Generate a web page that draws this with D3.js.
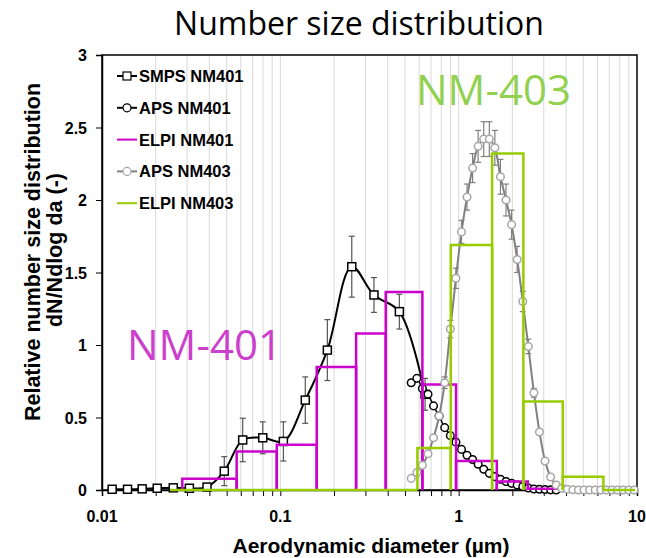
<!DOCTYPE html>
<html>
<head>
<meta charset="utf-8">
<script src="https://cdn.jsdelivr.net/npm/d3@7"></script>
<style>
  body { margin: 0; background: #fff; }
  text { font-family: "Liberation Sans", Arial, sans-serif; }
</style>
</head>
<body>
<div id="my_dataviz"></div>
<script>
// ---------------------------  DATA  ---------------------------
// SMPS NM401 (mobility sizer), diameters in um
const smpsDiam = [0.0114, 0.0139, 0.0168, 0.0204, 0.0251, 0.0309, 0.0388, 0.0485, 0.0615, 0.0797,
                  0.104, 0.138, 0.1835, 0.2515, 0.335, 0.465, 0.648];
const smpsNM401 = [0.005, 0.005, 0.008, 0.012, 0.015, 0.012, 0.02, 0.13, 0.345, 0.36,
                   0.335, 0.62, 0.965, 1.54, 1.345, 1.23, 0.66];
const smpsErr = [0, 0, 0, 0, 0, 0, 0, 0.1, 0.15, 0.11, 0.135, 0.16, 0.21, 0.21, 0.12, 0.12, 0.11];

// APS channels (um)
const apsDiam = [0.542, 0.583, 0.626, 0.673, 0.723, 0.777, 0.835, 0.898, 0.965, 1.037,
                 1.114, 1.197, 1.286, 1.382, 1.486, 1.596, 1.715, 1.843, 1.981, 2.129,
                 2.288, 2.458, 2.642, 2.839, 3.051, 3.278, 3.523, 3.786, 4.068, 4.371,
                 4.698, 5.048, 5.425, 5.829, 6.264, 6.732, 7.234, 7.774, 8.354, 8.977, 9.647];
const apsNM401 = [0.74, 0.77, 0.70, 0.66, 0.58, 0.51, 0.43, 0.375, 0.33, 0.28,
                  0.24, 0.21, 0.178, 0.143, 0.115, 0.092, 0.074, 0.058, 0.046, 0.035,
                  0.024, 0.014, 0.007, 0.005, 0.003, 0.001, 0];
const apsNM403 = [0.08, 0.12, 0.17, 0.25, 0.36, 0.51, 0.74, 1.11, 1.46, 1.78,
                  2.02, 2.22, 2.37, 2.42, 2.42, 2.36, 2.16, 2.00, 1.83, 1.59,
                  1.30, 0.99, 0.67, 0.40, 0.20, 0.09, 0.035, 0.012, 0.005, 0.002,
                  0, 0, 0, 0, 0, 0, 0, 0, 0, 0, 0];
const apsNM403Err = [0, 0, 0, 0, 0, 0, 0.04, 0.06, 0.07, 0.08,
                     0.09, 0.10, 0.11, 0.12, 0.12, 0.12, 0.12, 0.11, 0.10, 0.09,
                     0.07, 0.05, 0.03, 0, 0, 0, 0, 0, 0, 0,
                     0, 0, 0, 0, 0, 0, 0, 0, 0, 0, 0];

// ELPI stages: bin edges (um) and heights
const elpi401Edges = [0.0282, 0.0569, 0.0955, 0.160, 0.266, 0.390, 0.626, 0.967, 1.636, 2.441, 3.63];
const elpiNM401 = [0.078, 0.265, 0.312, 0.848, 1.079, 1.365, 0.728, 0.20, 0.058, 0.008];
const elpi403Edges = [0.024, 0.587, 0.903, 1.54, 2.306, 3.835, 6.48, 9.76];
const elpiNM403 = [0, 0.29, 1.69, 2.32, 0.61, 0.092, 0];

const xTicks = [0.01, 0.1, 1, 10];
const yTicks = [0, 0.5, 1, 1.5, 2, 2.5, 3];
const legendItems = ["SMPS NM401", "APS NM401", "ELPI NM401", "APS NM403", "ELPI NM403"];

// ---------------------------  PLOT  ---------------------------
const W = 646, H = 558;
const margins = {left: 102, right: 9, top: 55, bottom: 68};

const svg = d3.select("#my_dataviz")
    .append("svg")
        .attr("width", W)
        .attr("height", H);

const x = d3.scaleLog()
    .domain([0.01, 10])
    .range([margins.left, W - margins.right]);

const y = d3.scaleLinear()
    .domain([0, 3])
    .range([H - margins.bottom, margins.top]);

const MAGENTA = "#cc00cc", GREEN = "#99cc00", GREY = "#808080";

// Vertical grid lines at every minor value
const gridVals = [];
[0.01, 0.1, 1].forEach(dec => { for (let k = 1; k <= 9; k++) gridVals.push(dec * k); });
svg.append("g")
    .selectAll("line")
    .data(gridVals.filter(v => v > 0.01))
    .join("line")
        .attr("x1", d => x(d)).attr("x2", d => x(d))
        .attr("y1", y(0)).attr("y2", y(3))
        .attr("stroke", "#d9d9d9")
        .attr("stroke-width", 1);

// Frame
svg.append("rect")
    .attr("x", x(0.01)).attr("y", y(3))
    .attr("width", x(10) - x(0.01)).attr("height", y(0) - y(3))
    .attr("fill", "none")
    .attr("stroke", "#000")
    .attr("stroke-width", 1.5);

// X axis
svg.append("g")
    .attr("transform", `translate(0, ${y(0)})`)
    .call(d3.axisBottom(x).tickValues(gridVals.concat([10])).tickSize(6).tickFormat(""))
    .call(g => g.select(".domain").attr("stroke-width", 1.5));

svg.append("g")
    .selectAll("text")
    .data(xTicks)
    .join("text")
        .attr("x", d => x(d))
        .attr("y", 522)
        .attr("text-anchor", "middle")
        .attr("font-size", 16)
        .attr("font-weight", "bold")
        .text(d => d);

// Y axis
svg.append("g")
    .attr("transform", `translate(${x(0.01)}, 0)`)
    .call(d3.axisLeft(y).tickValues(yTicks).tickSize(6).tickFormat(""))
    .call(g => g.select(".domain").attr("stroke-width", 1.5));

svg.append("g")
    .selectAll("text")
    .data(yTicks)
    .join("text")
        .attr("x", 87)
        .attr("y", d => y(d) + 6)
        .attr("text-anchor", "end")
        .attr("font-size", 16)
        .attr("font-weight", "bold")
        .text(d => d);

// Axis titles
svg.append("text")
    .attr("x", 371).attr("y", 553)
    .attr("text-anchor", "middle")
    .attr("font-size", 21)
    .attr("font-weight", "bold")
    .text("Aerodynamic diameter (µm)");

svg.append("text")
    .attr("transform", "translate(40, 252) rotate(-90)")
    .attr("text-anchor", "middle")
    .attr("font-size", 21.5)
    .attr("font-weight", "bold")
    .text("Relative number size distribution");

svg.append("text")
    .attr("transform", "translate(62, 250) rotate(-90)")
    .attr("text-anchor", "middle")
    .attr("font-size", 21.5)
    .attr("font-weight", "bold")
    .text("dN/Ndlog da (-)");

// Title
svg.append("text")
    .attr("x", 359).attr("y", 35)
    .attr("text-anchor", "middle")
    .style("font-family", "'Open Sans', sans-serif")
    .attr("font-size", 32)
    .text("Number size distribution");

// ELPI bars drawn as stepped outlines
function drawBars(edges, vals, color) {
    svg.append("g")
        .selectAll("path")
        .data(vals)
        .join("path")
            .attr("d", (v, i) => `M${x(edges[i])},${y(0)}V${y(v)}H${x(edges[i + 1])}V${y(0)}`)
            .attr("fill", "none")
            .attr("stroke", color)
            .attr("stroke-width", 2.5);
}

function drawErrors(xs, vs, es, color) {
    const pts = xs.map((d, i) => ({d, v: vs[i], e: es[i]})).filter(p => p.e > 0);
    const g = svg.append("g").attr("stroke", color).attr("stroke-width", 1.2);
    pts.forEach(p => {
        const cx = x(p.d), y1 = y(p.v + p.e), y2 = y(p.v - p.e);
        g.append("line").attr("x1", cx).attr("x2", cx).attr("y1", y1).attr("y2", y2);
        g.append("line").attr("x1", cx - 3).attr("x2", cx + 3).attr("y1", y1).attr("y2", y1);
        g.append("line").attr("x1", cx - 3).attr("x2", cx + 3).attr("y1", y2).attr("y2", y2);
    });
}

const smooth = d3.line()
    .x(d => x(d[0]))
    .y(d => y(d[1]))
    .curve(d3.curveCatmullRom.alpha(0.5));

// SMPS NM401
drawErrors(smpsDiam, smpsNM401, smpsErr, "#555");
svg.append("path")
    .attr("d", smooth(smpsDiam.map((d, i) => [d, smpsNM401[i]])))
    .attr("fill", "none").attr("stroke", "#000").attr("stroke-width", 2);
svg.append("g")
    .selectAll("rect")
    .data(smpsDiam)
    .join("rect")
        .attr("x", d => x(d) - 4)
        .attr("y", (d, i) => y(smpsNM401[i]) - 4)
        .attr("width", 8).attr("height", 8)
        .attr("fill", "#fff").attr("stroke", "#000").attr("stroke-width", 1.5);

// APS NM401
const aps401 = apsNM401.map((v, i) => [apsDiam[i], v]);
svg.append("path")
    .attr("d", smooth(aps401))
    .attr("fill", "none").attr("stroke", "#000").attr("stroke-width", 1.5);
svg.append("g")
    .selectAll("circle")
    .data(aps401)
    .join("circle")
        .attr("cx", d => x(d[0])).attr("cy", d => y(d[1])).attr("r", 3.8)
        .attr("fill", "#fff").attr("stroke", "#000").attr("stroke-width", 1.5);

// ELPI NM401
drawBars(elpi401Edges, elpiNM401, MAGENTA);

// APS NM403
const aps403 = apsNM403.map((v, i) => [apsDiam[i], v]);
drawErrors(apsDiam, apsNM403, apsNM403Err, GREY);
svg.append("path")
    .attr("d", smooth(aps403))
    .attr("fill", "none").attr("stroke", GREY).attr("stroke-width", 2);
svg.append("g")
    .selectAll("circle")
    .data(aps403)
    .join("circle")
        .attr("cx", d => x(d[0])).attr("cy", d => y(d[1])).attr("r", 3.8)
        .attr("fill", "#fff").attr("stroke", "#a6a6a6").attr("stroke-width", 1.5);

// ELPI NM403
drawBars(elpi403Edges, elpiNM403, GREEN);

// Sample labels
svg.append("text")
    .attr("x", 127).attr("y", 360)
    .style("font-family", "'Open Sans', sans-serif")
    .attr("font-size", 42)
    .attr("fill", "#cc3fcc")
    .text("NM-401");

svg.append("text")
    .attr("x", 416).attr("y", 105)
    .style("font-family", "'Open Sans', sans-serif")
    .attr("font-size", 42)
    .attr("fill", "#92d050")
    .text("NM-403");

// Legend
const legendStyle = [
    {line: "#000", marker: "square", mstroke: "#000"},
    {line: "#000", marker: "circle", mstroke: "#000"},
    {line: MAGENTA, marker: null},
    {line: GREY, marker: "circle", mstroke: "#a6a6a6"},
    {line: GREEN, marker: null}
];
const legend = svg.append("g");
legendItems.forEach((name, i) => {
    const cy = 76 + i * 31.8, st = legendStyle[i];
    legend.append("line")
        .attr("x1", 117).attr("x2", 137).attr("y1", cy).attr("y2", cy)
        .attr("stroke", st.line).attr("stroke-width", 2);
    if (st.marker === "square") {
        legend.append("rect").attr("x", 123).attr("y", cy - 4).attr("width", 8).attr("height", 8)
            .attr("fill", "#fff").attr("stroke", st.mstroke).attr("stroke-width", 1.2);
    } else if (st.marker === "circle") {
        legend.append("circle").attr("cx", 127).attr("cy", cy).attr("r", 4)
            .attr("fill", "#fff").attr("stroke", st.mstroke).attr("stroke-width", 1.2);
    }
    legend.append("text")
        .attr("x", 139).attr("y", cy + 6)
        .attr("font-size", 16.5)
        .attr("font-weight", "bold")
        .text(name);
});
</script>
</body>
</html>
